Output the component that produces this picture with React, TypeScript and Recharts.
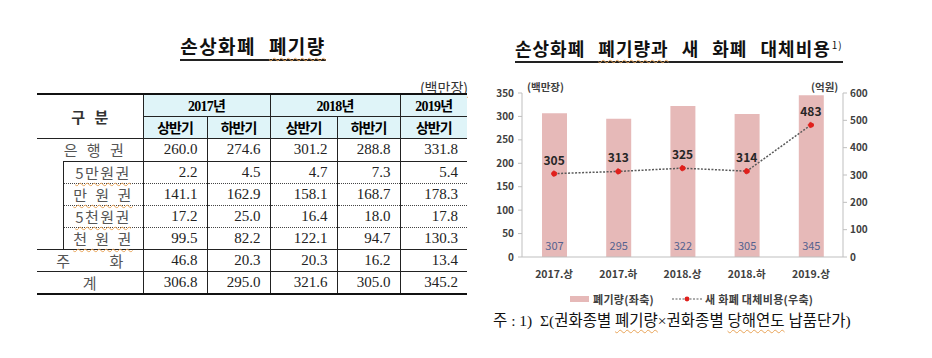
import { ComposedChart, Bar, Line, XAxis, YAxis, LabelList } from "recharts";

// 차트 데이터
const PERIODS = ["2017.상", "2017.하", "2018.상", "2018.하", "2019.상"];
const DISPOSAL = [307, 295, 322, 305, 345]; // 폐기량(백만장)
const REPLACE_COST = [305, 313, 325, 314, 483]; // 새 화폐 대체비용(억원)
const LEFT_TICKS = [0, 50, 100, 150, 200, 250, 300, 350];
const RIGHT_TICKS = [0, 100, 200, 300, 400, 500, 600];

// 표 데이터
const YEARS = ["2017년", "2018년", "2019년"];
const YEAR_SPANS = [2, 2, 1];
const HALVES = ["상반기", "하반기", "상반기", "하반기", "상반기"];
const BANKNOTES = ["260.0", "274.6", "301.2", "288.8", "331.8"];
const NOTE_LABELS = ["5만원권", "만 원 권", "5천원권", "천 원 권"];
const NOTE_VALUES = [
  ["2.2", "4.5", "4.7", "7.3", "5.4"],
  ["141.1", "162.9", "158.1", "168.7", "178.3"],
  ["17.2", "25.0", "16.4", "18.0", "17.8"],
  ["99.5", "82.2", "122.1", "94.7", "130.3"],
];
const COINS = ["46.8", "20.3", "20.3", "16.2", "13.4"];
const TOTAL = ["306.8", "295.0", "321.6", "305.0", "345.2"];

const chartData = PERIODS.map((p, i) => ({ period: p, disposal: DISPOSAL[i], cost: REPLACE_COST[i] }));

const KR = "'Noto Sans CJK KR', 'Noto Sans', sans-serif";
const SERIF = "'Liberation Serif', 'Noto Sans CJK KR', serif";
const wavy = { textDecoration: "underline wavy #e8a458", textDecorationThickness: "1px", textUnderlineOffset: "3px" };
const line = "1px solid #222";
const dotted = "1px dotted #444";

const numCell = (extra = {}) => ({
  textAlign: "right" as const,
  paddingRight: 9,
  fontFamily: SERIF,
  fontSize: 15,
  color: "#222",
  borderLeft: line,
  ...extra,
});
const labelStyle = { fontFamily: KR, fontSize: 14, color: "#555", textAlign: "center" as const };

function DisposalTable() {
  return (
    <table
      style={{
        position: "absolute",
        left: 37,
        top: 93,
        width: 430,
        borderCollapse: "collapse",
        tableLayout: "fixed",
        borderTop: "2px solid #111",
        borderBottom: "2px solid #111",
      }}
    >
      <colgroup>
        <col style={{ width: 26 }} />
        <col style={{ width: 80 }} />
        <col style={{ width: 64 }} />
        <col style={{ width: 63 }} />
        <col style={{ width: 67 }} />
        <col style={{ width: 63 }} />
        <col style={{ width: 67 }} />
      </colgroup>
      <tbody>
        <tr style={{ height: 22 }}>
          <td colSpan={2} rowSpan={2} style={{ ...labelStyle, fontWeight: 700, color: "#333", fontSize: 15, borderBottom: line, wordSpacing: 6 }}>
            구 분
          </td>
          {YEARS.map((y, i) => (
            <td
              key={y}
              colSpan={YEAR_SPANS[i]}
              style={{ background: "#dff4f8", borderLeft: line, borderBottom: line, textAlign: "center", fontFamily: SERIF, fontWeight: 700, fontSize: 14, letterSpacing: -0.8, padding: 0 }}
            >
              {y}
            </td>
          ))}
        </tr>
        <tr style={{ height: 22 }}>
          {HALVES.map((h, i) => (
            <td key={i} style={{ background: "#dff4f8", borderLeft: line, borderBottom: line, textAlign: "center", fontFamily: KR, fontWeight: 700, fontSize: 14, letterSpacing: -1, padding: 0 }}>
              {h}
            </td>
          ))}
        </tr>
        <tr style={{ height: 23 }}>
          <td colSpan={2} style={{ ...labelStyle, fontSize: 15, wordSpacing: 6, padding: "0 0 0 8px" }}>은 행 권</td>
          {BANKNOTES.map((v, i) => (
            <td key={i} style={numCell({ borderBottom: line })}>{v}</td>
          ))}
        </tr>
        {NOTE_LABELS.map((lab, r) => (
          <tr key={lab} style={{ height: 22 }}>
            {r === 0 && <td rowSpan={4} style={{ borderBottom: line, borderRight: line }} />}
            <td
              style={{
                ...labelStyle,
                fontSize: 15,
                padding: 0,
                letterSpacing: 1.5,
                wordSpacing: 2,
                borderTop: r === 0 ? line : undefined,
                borderBottom: r === 3 ? line : dotted,
              }}
            >
              <span style={wavy}>{lab}</span>
            </td>
            {NOTE_VALUES[r].map((v, i) => (
              <td key={i} style={numCell({ borderBottom: r === 3 ? line : dotted })}>{v}</td>
            ))}
          </tr>
        ))}
        <tr style={{ height: 22 }}>
          <td colSpan={2} style={{ ...labelStyle, fontSize: 15, wordSpacing: 36, padding: 0, borderBottom: line }}>주 화</td>
          {COINS.map((v, i) => (
            <td key={i} style={numCell({ borderBottom: line })}>{v}</td>
          ))}
        </tr>
        <tr style={{ height: 22 }}>
          <td colSpan={2} style={{ ...labelStyle, fontSize: 15, padding: 0 }}>계</td>
          {TOTAL.map((v, i) => (
            <td key={i} style={numCell()}>{v}</td>
          ))}
        </tr>
      </tbody>
    </table>
  );
}

function CostChart() {
  const tick = { fill: "#404040", fontSize: 10, fontWeight: 700, fontFamily: KR };
  return (
    <ComposedChart width={420} height={250} data={chartData} margin={{ top: 33, right: 22, bottom: 23, left: 12 }}>
      <XAxis
        dataKey="period"
        tick={{ ...tick, fontSize: 10.5 }}
        axisLine={{ stroke: "#bfbfbf" }}
        tickLine={false}
        tickMargin={8}
        height={30}
      />
      <YAxis
        yAxisId="left"
        width={30}
        domain={[0, 350]}
        ticks={LEFT_TICKS}
        tick={tick}
        axisLine={{ stroke: "#bfbfbf" }}
        tickLine={{ stroke: "#bfbfbf" }}
        tickSize={4}
        tickMargin={4}
        interval={0}
      />
      <YAxis
        yAxisId="right"
        orientation="right"
        width={35}
        domain={[0, 600]}
        ticks={RIGHT_TICKS}
        tick={tick}
        axisLine={{ stroke: "#bfbfbf" }}
        tickLine={{ stroke: "#bfbfbf" }}
        tickSize={4}
        tickMargin={3}
        interval={0}
      />
      <Bar yAxisId="left" dataKey="disposal" fill="#e6b9b8" barSize={25} isAnimationActive={false}>
        <LabelList dataKey="disposal" position="insideBottom" offset={7} fill="#55628f" fontSize={11} fontFamily={KR} />
      </Bar>
      <Line
        yAxisId="right"
        dataKey="cost"
        type="linear"
        stroke="#5a5a5a"
        strokeWidth={1.5}
        strokeDasharray="2 1.5"
        dot={{ r: 2.6, fill: "#e0201c", stroke: "#e0201c", strokeWidth: 1 }}
        isAnimationActive={false}
      >
        <LabelList dataKey="cost" position="top" offset={9} fill="#262626" fontSize={12} fontWeight={700} fontFamily={KR} />
      </Line>
    </ComposedChart>
  );
}

export default function App() {
  return (
    <div style={{ position: "absolute", left: 0, top: 0, width: 932, height: 358, background: "#fff", overflow: "hidden" }}>
      {/* 왼쪽 표 */}
      <div style={{ position: "absolute", left: 0, width: 506, top: 33, textAlign: "center" }}>
        <span style={{ fontFamily: KR, fontWeight: 700, fontSize: 19, color: "#111", borderBottom: "2px solid #222", lineHeight: "25px", letterSpacing: 1.5, wordSpacing: 7 }}>
          손상화폐 <span style={wavy}>폐기량</span>
        </span>
      </div>
      <div style={{ position: "absolute", right: 932 - 468, top: 77, fontFamily: KR, fontSize: 14, color: "#333" }}>
        <span style={wavy}>(백만장)</span>
      </div>
      <DisposalTable />

      {/* 오른쪽 차트 */}
      <div style={{ position: "absolute", left: 515, top: 32, whiteSpace: "nowrap" }}>
        <span style={{ fontFamily: KR, fontWeight: 700, fontSize: 18, color: "#111", borderBottom: "2px solid #222", lineHeight: "25px", letterSpacing: 1, wordSpacing: 8 }}>
          손상화폐 <span style={wavy}>폐기량과</span> 새 화폐 대체비용
          <sup style={{ fontSize: 10, fontWeight: 400, marginLeft: 1 }}>1)</sup>
        </span>
      </div>
      <div style={{ position: "absolute", left: 527, top: 79, fontFamily: KR, fontWeight: 700, fontSize: 10.5, color: "#404040" }}>(백만장)</div>
      <div style={{ position: "absolute", left: 811, top: 79, fontFamily: KR, fontWeight: 700, fontSize: 10.5, color: "#404040" }}>(억원)</div>
      <div style={{ position: "absolute", left: 480, top: 60 }}>
        <CostChart />
      </div>
      {/* 범례 */}
      <div style={{ position: "absolute", left: 570, top: 291, display: "flex", alignItems: "center", fontFamily: KR, fontWeight: 700, fontSize: 11, color: "#404040", letterSpacing: 0.3 }}>
        <span style={{ display: "inline-block", width: 19, height: 6, background: "#e6b9b8", marginRight: 4 }} />
        <span>폐기량(좌축)</span>
        <svg width={30} height={10} style={{ marginLeft: 18, marginRight: 3 }}>
          <line x1={0} y1={5} x2={30} y2={5} stroke="#5a5a5a" strokeWidth={1.2} strokeDasharray="2 1.5" />
          <circle cx={15} cy={5} r={2.4} fill="#e0201c" />
        </svg>
        <span>새 화폐 대체비용(우축)</span>
      </div>
      {/* 주석 */}
      <div style={{ position: "absolute", left: 493, top: 308, fontFamily: SERIF, fontSize: 15.5, color: "#111", letterSpacing: 0, whiteSpace: "nowrap" }}>
        주 : 1)&nbsp; Σ(권화종별 <span style={wavy}>폐기량</span>×권화종별 <span style={wavy}>당해연도</span> 납품단가)
      </div>
    </div>
  );
}
